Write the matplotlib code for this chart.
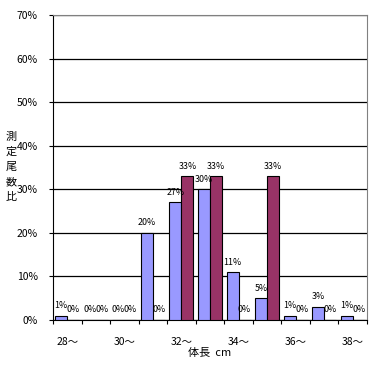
import matplotlib
matplotlib.use("Agg")
import matplotlib.pyplot as plt
import numpy as np

plt.rcParams['font.family'] = ['Noto Sans CJK JP', 'DejaVu Sans']

categories = ["28〜", "29〜", "30〜", "31〜", "32〜", "33〜", "34〜", "35〜", "36〜", "37〜", "38〜"]
series_a = [1, 0, 0, 20, 27, 30, 11, 5, 1, 3, 1]   # blue
series_b = [0, 0, 0, 0, 33, 33, 0, 33, 0, 0, 0]    # maroon
yticks = [0, 10, 20, 30, 40, 50, 60, 70]
ylabel = "測定尾数比"

fig = plt.figure(figsize=(3.72, 3.65), dpi=100)
ax = fig.add_axes([53/372, 1-320/365, (367-53)/372, (320-15)/365])

x = np.arange(len(categories))
w = 0.42
ax.bar(x - w/2, series_a, w, color='#9999FF', edgecolor='black', linewidth=0.8, zorder=3)
ax.bar(x + w/2, series_b, w, color='#993366', edgecolor='black', linewidth=0.8, zorder=3)

for xi, v in zip(x - w/2, series_a):
    ax.annotate(f"{v}%", (xi, v), xytext=(0, 4), textcoords='offset points',
                ha='center', va='bottom', fontsize=6.4, zorder=4)
for xi, v in zip(x + w/2, series_b):
    ax.annotate(f"{v}%", (xi, v), xytext=(0, 4), textcoords='offset points',
                ha='center', va='bottom', fontsize=6.4, zorder=4)

ax.set_xlim(-0.5, len(categories) - 0.5)
ax.set_ylim(0, 70)
ax.set_yticks(yticks)
ax.set_yticklabels([f"{t}%" for t in yticks], fontsize=7.5)
ax.yaxis.grid(True, color='black', linewidth=0.9, zorder=0)
ax.set_axisbelow(True)

ax.set_xticks(x[::2])
ax.set_xticklabels(categories[::2], fontsize=7.5)
ax.set_xticks(np.arange(len(categories) + 1) - 0.5, minor=True)
ax.tick_params(axis='x', which='major', length=0, pad=12)
ax.tick_params(axis='x', which='minor', length=3, width=0.8)
ax.tick_params(axis='y', length=3, width=0.8, pad=8)

for s in ['top', 'right']:
    ax.spines[s].set_color('#808080')
for s in ['left', 'bottom']:
    ax.spines[s].set_color('black')

ax.set_xlabel("体長  cm", fontsize=8, labelpad=1)
for i, ch in enumerate(ylabel):
    fig.text(11/372, 1-(137 + 15*i)/365, ch, fontsize=8, ha='center', va='center')

fig.savefig("out.png", dpi=100)
